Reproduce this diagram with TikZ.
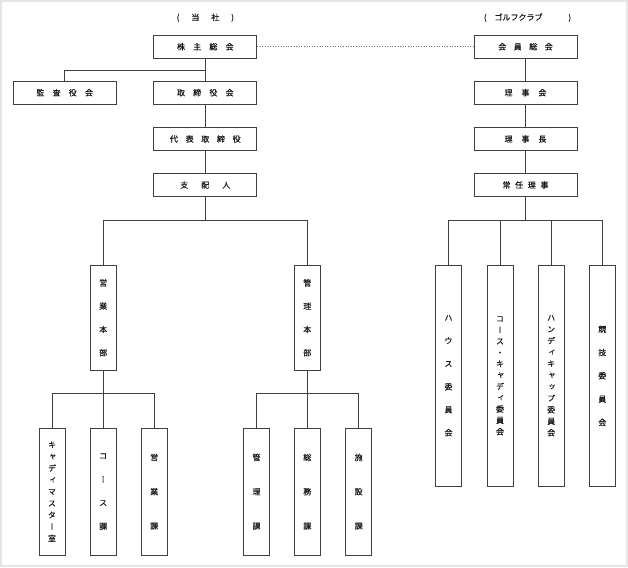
\documentclass[tikz,border=0pt]{standalone}
\usepackage{fontspec}
\newfontfamily\jp[FakeBold=0.4]{Noto Sans CJK JP}
\newfontfamily\jpv[RawFeature=+vert,FakeBold=0.4]{Noto Sans CJK JP}
\newcommand\jgap[1]{\hskip#1pt\relax}
\begin{document}
\begin{tikzpicture}[x=1pt,y=-1pt,
  box/.style={draw=black!75, line width=0.8pt, inner sep=0pt, minimum width=103pt, minimum height=23.3pt, font=\jp\fontsize{8}{9}\selectfont, text=black!90},
  vbox/.style={draw=black!75, line width=0.8pt, inner sep=0pt, minimum width=26pt, align=center, text=black!90},
  link/.style={draw=black!75, line width=0.8pt},
  head/.style={inner sep=0pt, font=\jp\fontsize{8}{9}\selectfont, text=black!90}]
\useasboundingbox (0,0) rectangle (628,567);
\draw[gray!20, line width=2pt] (1,1) rectangle (627,566);

% headers
\node[head] (hl) at (205.3,17.7) {(\jgap{12}当\jgap{12}社\jgap{12})};
\node[head] (hr) at (527.5,17.7) {(\jgap{8}ゴルフクラブ\jgap{26})};

% company
\node[box] (kabu) at (205.3,46.7) {株\jgap{8.2}主\jgap{8.2}総\jgap{8.2}会};
\node[box] (kansa) at (64.7,92.7) {監\jgap{8.2}査\jgap{8.2}役\jgap{8.2}会};
\node[box] (tori) at (205.3,92.7) {取\jgap{8.2}締\jgap{8.2}役\jgap{8.2}会};
\node[box] (daihyo) at (205.3,139) {代\jgap{7.7}表\jgap{7.7}取\jgap{7.7}締\jgap{7.7}役};
\node[box] (shihai) at (205.3,185) {支\jgap{13}配\jgap{13}人};

% club
\node[box] (kaiin) at (525.5,46.7) {会\jgap{7.5}員\jgap{7.5}総\jgap{7.5}会};
\node[box] (rijikai) at (525.5,92.7) {理\jgap{8.9}事\jgap{8.9}会};
\node[box] (rijicho) at (525.5,139) {理\jgap{8.9}事\jgap{8.9}長};
\node[box] (jonin) at (525.5,185) {常\jgap{4.7}任\jgap{4.7}理\jgap{4.7}事};

% divisions
\node[vbox, minimum height=104.3pt, font=\jpv\fontsize{8}{23.3}\selectfont] (eh) at (103.2,317.8) {営\\業\\本\\部};
\node[vbox, minimum height=104.3pt, font=\jpv\fontsize{8}{23.3}\selectfont] (kh) at (307.3,317.8) {管\\理\\本\\部};

% sections
\node[vbox, minimum height=126.7pt, font=\jpv\fontsize{8}{11.7}\selectfont] (caddie) at (52,491.7) {キ\\ャ\\デ\\ィ\\マ\\ス\\タ\\ー\\室};
\node[vbox, minimum height=126.7pt, font=\jpv\fontsize{8}{23.5}\selectfont] (course) at (103.2,491.7) {コ\\ー\\ス\\課};
\node[vbox, minimum height=126.7pt, font=\jpv\fontsize{8}{34.3}\selectfont] (eigyo) at (154.2,491.7) {営\\業\\課};
\node[vbox, minimum height=126.7pt, font=\jpv\fontsize{8}{34.3}\selectfont] (kanri) at (256.5,491.7) {管\\理\\課};
\node[vbox, minimum height=126.7pt, font=\jpv\fontsize{8}{34.3}\selectfont] (somu) at (307.3,491.7) {総\\務\\課};
\node[vbox, minimum height=126.7pt, font=\jpv\fontsize{8}{34.3}\selectfont] (shisetsu) at (358.7,491.7) {施\\設\\課};

% committees
\node[vbox, minimum height=220.3pt, font=\jpv\fontsize{8}{23}\selectfont] (house) at (448.5,375.8) {ハ\\ウ\\ス\\委\\員\\会};
\node[vbox, minimum height=220.3pt, font=\jpv\fontsize{8}{11.3}\selectfont] (cc) at (500,375.8) {コ\\ー\\ス\\・\\キ\\ャ\\デ\\ィ\\委\\員\\会};
\node[vbox, minimum height=220.3pt, font=\jpv\fontsize{8}{11.5}\selectfont] (hc) at (551.2,375.8) {ハ\\ン\\デ\\ィ\\キ\\ャ\\ッ\\プ\\委\\員\\会};
\node[vbox, minimum height=220.3pt, font=\jpv\fontsize{8}{23.3}\selectfont] (kyogi) at (602.3,375.8) {競\\技\\委\\員\\会};

% junctions
\coordinate (j1) at (205.3,70);
\coordinate (j2) at (205.3,220);
\coordinate (j3) at (103.2,393.3);
\coordinate (j4) at (307.3,393.3);
\coordinate (j5) at (525.5,220);

% connectors
\draw[black!55, line width=0.6pt, dotted] (kabu.east) -- (kaiin.west);
\draw[link] (kabu.south) -- (tori.north);
\draw[link] (j1) -| (kansa.north);
\draw[link] (tori.south) -- (daihyo.north);
\draw[link] (daihyo.south) -- (shihai.north);
\draw[link] (shihai.south) -- (j2);
\draw[link] (j2) -| (eh.north);
\draw[link] (j2) -| (kh.north);
\draw[link] (eh.south) -- (course.north);
\draw[link] (j3) -| (caddie.north);
\draw[link] (j3) -| (eigyo.north);
\draw[link] (kh.south) -- (somu.north);
\draw[link] (j4) -| (kanri.north);
\draw[link] (j4) -| (shisetsu.north);

\draw[link] (kaiin.south) -- (rijikai.north);
\draw[link] (rijikai.south) -- (rijicho.north);
\draw[link] (rijicho.south) -- (jonin.north);
\draw[link] (jonin.south) -- (j5);
\draw[link] (j5) -| (house.north);
\draw[link] (j5) -| (cc.north);
\draw[link] (j5) -| (hc.north);
\draw[link] (j5) -| (kyogi.north);
\end{tikzpicture}
\end{document}
